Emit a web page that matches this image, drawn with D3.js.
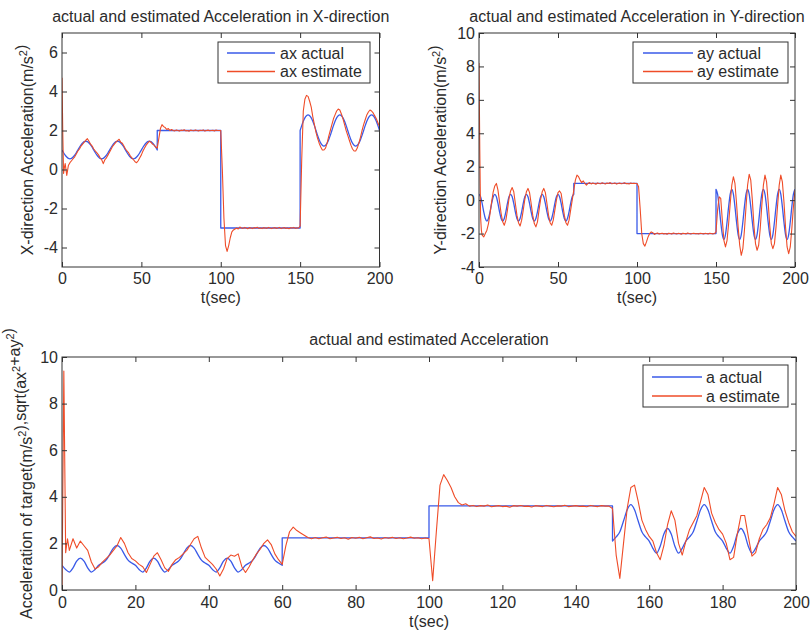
<!DOCTYPE html>
<html><head><meta charset="utf-8">
<script src="https://cdn.jsdelivr.net/npm/d3@7"></script>
<style>
html,body{margin:0;padding:0;background:#fff;}
svg{display:block;}
text{font-family:"Liberation Sans",Arial,sans-serif;fill:#2b2b2b;font-size:16px;}
</style>
</head><body>
<svg id="c" width="811" height="633"></svg>
<script>
// ---------------- data ----------------
// sample times of the estimated signals (s)
const tEst = [0, 0.5, 1, 1.5].concat(d3.range(2, 201));
// sample times of the actual signals (s) — repeated times are the step jumps
const tAct = d3.range(0, 61).concat([60, 100, 100, 150], d3.range(150, 201));

const axActual = [
 1.00,0.86,0.74,0.64,0.57,0.55,0.57,0.64,0.74,0.86,
 1.00,1.14,1.26,1.36,1.43,1.45,1.43,1.36,1.26,1.14,
 1.00,0.86,0.74,0.64,0.57,0.55,0.57,0.64,0.74,0.86,
 1.00,1.14,1.26,1.36,1.43,1.45,1.43,1.36,1.26,1.14,
 1.00,0.86,0.74,0.64,0.57,0.55,0.57,0.64,0.74,0.86,
 1.00,1.14,1.26,1.36,1.43,1.45,1.43,1.36,1.26,1.14,
 1.00,
 2.00,2.00,-3.00,-3.00,
 2.00,2.25,2.47,2.65,2.76,2.80,2.76,2.65,2.47,2.25,
 2.00,1.75,1.53,1.35,1.24,1.20,1.24,1.35,1.53,1.75,
 2.00,2.25,2.47,2.65,2.76,2.80,2.76,2.65,2.47,2.25,
 2.00,1.75,1.53,1.35,1.24,1.20,1.24,1.35,1.53,1.75,
 2.00,2.25,2.47,2.65,2.76,2.80,2.76,2.65,2.47,2.25,
 2.00
];
const axEstimate = [
 4.7,1.8,-0.2,0.1,
 0.3,-0.3,0.2,0.35,0.45,0.55,0.65,0.8,
 0.95,1.05,1.2,1.3,1.4,1.5,1.58,1.45,1.3,1.2,
 1.05,0.95,0.85,0.75,0.6,0.5,0.3,0.5,0.6,0.75,
 0.9,1.05,1.2,1.3,1.4,1.48,1.55,1.4,1.35,1.2,
 1.05,0.95,0.85,0.7,0.6,0.5,0.4,0.35,0.45,0.6,
 0.75,0.95,1.1,1.25,1.35,1.45,1.4,1.3,1.25,1.15,
 1.1,1.6,2.1,2.3,2.2,2.15,2.05,2.1,2.0,2.05,
 2.0,1.98,2.03,2.0,1.97,2.02,2.0,2.04,1.98,2.0,
 1.96,2.02,2.0,1.99,2.03,2.0,1.98,2.01,2.0,2.03,
 1.97,2.0,2.02,1.99,2.0,2.01,1.98,2.02,2.0,2.0,
 2.0,0.0,-2.5,-3.9,-4.2,-3.9,-3.5,-3.2,-3.1,-3.05,
 -3.0,-3.05,-2.95,-3.0,-3.02,-2.97,-3.0,-3.04,-2.98,-3.0,
 -3.03,-2.98,-3.0,-2.96,-3.02,-3.0,-3.03,-2.98,-3.0,-3.02,
 -2.97,-3.0,-3.03,-3.0,-2.98,-3.02,-3.0,-2.97,-3.03,-3.0,
 -2.98,-3.02,-3.0,-3.04,-2.99,-3.0,-2.97,-3.02,-3.0,-3.0,
 -2.9,0.5,3.0,3.6,3.8,3.75,3.5,3.2,2.7,2.3,
 1.9,1.6,1.35,1.15,1.0,1.0,1.1,1.35,1.7,2.0,
 2.3,2.6,2.8,3.0,3.1,3.05,2.85,2.6,2.3,2.0,
 1.75,1.5,1.25,1.05,0.95,0.95,1.1,1.35,1.65,2.0,
 2.3,2.55,2.8,2.95,3.05,3.0,2.9,2.75,2.6,2.4,
 2.2
];

const ayActual = [
 0.35,0.20,-0.20,-0.70,-1.10,-1.25,-1.10,-0.70,-0.20,0.20,
 0.35,0.20,-0.20,-0.70,-1.10,-1.25,-1.10,-0.70,-0.20,0.20,
 0.35,0.20,-0.20,-0.70,-1.10,-1.25,-1.10,-0.70,-0.20,0.20,
 0.35,0.20,-0.20,-0.70,-1.10,-1.25,-1.10,-0.70,-0.20,0.20,
 0.35,0.20,-0.20,-0.70,-1.10,-1.25,-1.10,-0.70,-0.20,0.20,
 0.35,0.20,-0.20,-0.70,-1.10,-1.25,-1.10,-0.70,-0.20,0.20,
 0.35,
 1.00,1.00,-2.00,-2.00,
 0.65,0.36,-0.39,-1.31,-2.06,-2.35,-2.06,-1.31,-0.39,0.36,
 0.65,0.36,-0.39,-1.31,-2.06,-2.35,-2.06,-1.31,-0.39,0.36,
 0.65,0.36,-0.39,-1.31,-2.06,-2.35,-2.06,-1.31,-0.39,0.36,
 0.65,0.36,-0.39,-1.31,-2.06,-2.35,-2.06,-1.31,-0.39,0.36,
 0.65,0.36,-0.39,-1.31,-2.06,-2.35,-2.06,-1.31,-0.39,0.36,
 0.65
];
const ayEstimate = [
 8.2,3.0,-1.0,-1.8,
 -2.1,-2.2,-2.0,-1.8,-1.4,-0.8,-0.1,0.5,
 0.85,1.0,0.6,-0.1,-0.8,-1.3,-1.5,-1.2,-0.6,0.1,
 0.55,0.75,0.5,-0.2,-0.9,-1.35,-1.55,-1.2,-0.6,0.05,
 0.5,0.7,0.45,-0.2,-0.9,-1.4,-1.6,-1.3,-0.6,0.05,
 0.5,0.7,0.45,-0.2,-0.9,-1.35,-1.5,-1.2,-0.6,0.0,
 0.45,0.55,0.4,-0.25,-0.9,-1.35,-1.5,-1.2,-0.6,0.0,
 0.6,1.2,1.5,1.4,1.2,1.05,1.15,1.0,0.9,1.0,
 1.05,0.97,1.02,1.0,0.95,1.03,1.0,0.98,1.04,1.0,
 0.97,1.02,1.0,1.05,0.98,1.0,1.03,0.96,1.0,1.02,
 0.98,1.0,1.04,0.99,1.0,0.97,1.02,1.0,1.01,1.0,
 1.0,0.8,-0.5,-2.0,-2.6,-2.75,-2.5,-2.2,-2.0,-1.9,
 -1.95,-2.05,-2.0,-1.97,-2.03,-2.0,-1.98,-2.02,-2.0,-2.04,
 -1.98,-2.0,-2.03,-1.97,-2.0,-2.02,-1.99,-2.0,-2.04,-1.98,
 -2.0,-2.02,-1.97,-2.0,-2.03,-2.0,-1.98,-2.01,-2.0,-2.03,
 -1.98,-2.0,-2.02,-1.99,-2.0,-2.03,-1.98,-2.0,-2.02,-2.0,
 -1.9,-0.6,0.2,0.1,-1.2,-2.4,-2.8,-2.4,-1.4,-0.2,
 0.9,1.4,1.0,-0.2,-1.6,-2.7,-3.3,-2.9,-1.8,-0.4,
 0.9,1.55,1.2,0.0,-1.5,-2.6,-3.0,-2.7,-1.7,-0.3,
 0.9,1.5,1.1,-0.1,-1.5,-2.6,-2.9,-2.6,-1.6,-0.3,
 0.9,1.5,1.1,-0.1,-1.6,-2.8,-3.2,-2.8,-1.7,-0.4,
 0.6
];

const aActual = [
 1.06,0.88,0.77,0.95,1.24,1.37,1.24,0.95,0.77,0.88,
 1.06,1.16,1.28,1.53,1.80,1.91,1.80,1.53,1.28,1.16,
 1.06,0.88,0.77,0.95,1.24,1.37,1.24,0.95,0.77,0.88,
 1.06,1.16,1.28,1.53,1.80,1.91,1.80,1.53,1.28,1.16,
 1.06,0.88,0.77,0.95,1.24,1.37,1.24,0.95,0.77,0.88,
 1.06,1.16,1.28,1.53,1.80,1.91,1.80,1.53,1.28,1.16,
 1.06,
 2.24,2.24,3.61,3.61,
 2.10,2.28,2.50,2.96,3.44,3.66,3.44,2.96,2.50,2.28,
 2.10,1.79,1.58,1.88,2.40,2.64,2.40,1.88,1.58,1.79,
 2.10,2.28,2.50,2.96,3.44,3.66,3.44,2.96,2.50,2.28,
 2.10,1.79,1.58,1.88,2.40,2.64,2.40,1.88,1.58,1.79,
 2.10,2.28,2.50,2.96,3.44,3.66,3.44,2.96,2.50,2.28,
 2.10
];
const aEstimate = [
 0.0,9.4,1.6,2.2,
 1.7,2.2,1.8,2.1,1.9,1.7,1.2,0.9,
 1.0,1.2,1.35,1.5,1.7,1.9,2.25,2.0,1.6,1.35,
 1.25,1.1,1.0,0.75,1.1,1.45,1.6,1.3,0.95,0.8,
 1.1,1.3,1.4,1.55,1.7,1.95,2.2,2.3,1.8,1.4,
 1.25,1.1,0.9,0.6,0.9,1.35,1.5,1.45,1.55,1.0,
 0.75,1.0,1.3,1.55,1.75,2.0,2.15,1.95,1.55,1.3,
 1.1,1.9,2.5,2.7,2.55,2.45,2.35,2.25,2.2,2.25,
 2.2,2.24,2.27,2.2,2.23,2.26,2.21,2.24,2.18,2.25,
 2.22,2.26,2.2,2.24,2.28,2.21,2.23,2.19,2.25,2.22,
 2.26,2.21,2.24,2.2,2.23,2.27,2.22,2.24,2.2,2.23,
 2.2,0.4,2.5,4.5,4.95,4.7,4.4,4.0,3.75,3.65,
 3.7,3.6,3.63,3.58,3.62,3.6,3.65,3.57,3.6,3.62,
 3.58,3.6,3.55,3.62,3.6,3.63,3.59,3.6,3.56,3.62,
 3.6,3.58,3.63,3.6,3.57,3.61,3.6,3.64,3.58,3.6,
 3.62,3.59,3.6,3.57,3.63,3.6,3.58,3.62,3.6,3.6,
 3.5,1.5,0.5,2.0,3.5,4.4,4.5,3.8,3.0,2.6,
 2.3,2.1,1.6,1.3,1.9,2.8,3.4,3.0,2.0,1.5,
 2.1,2.6,2.9,3.2,3.8,4.4,4.1,3.3,2.9,2.6,
 2.4,2.0,1.3,1.4,2.4,3.2,3.2,2.3,1.45,1.6,
 2.2,2.6,2.8,3.1,3.7,4.4,4.1,3.4,2.9,2.5,
 2.3
];

const xTicksTop = [0, 50, 100, 150, 200];
const xTicksBottom = [0, 20, 40, 60, 80, 100, 120, 140, 160, 180, 200];
const yTicksAx = [-4, -2, 0, 2, 4, 6];
const yTicksAy = [-4, -2, 0, 2, 4, 6, 8, 10];
const yTicksA = [0, 2, 4, 6, 8, 10];

const titles = ["actual and estimated Acceleration in X-direction",
                "actual and estimated Acceleration in Y-direction",
                "actual and estimated Acceleration"];
const legendAx = ["ax actual", "ax estimate"];
const legendAy = ["ay actual", "ay estimate"];
const legendA = ["a actual", "a estimate"];
const xLabel = "t(sec)";

// ---------------- drawing ----------------
const BLUE = "#3a5ae8", RED = "#ef4c28", INK = "#333";
const svg = d3.select("#c");
svg.append("rect").attr("width", 811).attr("height", 633).attr("fill", "#fff");

function splitPieces(ts, vs) {
  const pieces = []; let cur = [];
  ts.forEach((t, i) => {
    if (i > 0 && t === ts[i - 1]) { pieces.push(cur); cur = []; }
    cur.push([t, vs[i]]);
  });
  pieces.push(cur);
  return pieces;
}

let clipN = 0;
function panel(o) {
  const g = svg.append("g");
  const x = d3.scaleLinear().domain([0, 200]).range([o.left, o.right]);
  const y = d3.scaleLinear().domain(o.yDomain).range([o.bottom, o.top]);
  const cid = "clip" + (clipN++);
  g.append("clipPath").attr("id", cid).append("rect")
    .attr("x", o.left).attr("y", o.top).attr("width", o.right - o.left).attr("height", o.bottom - o.top);

  const plot = g.append("g").attr("clip-path", `url(#${cid})`);
  // actual (blue) — smooth pieces joined by vertical jumps
  const smooth = d3.line().x(d => x(d[0])).y(d => y(d[1])).curve(d3.curveMonotoneX);
  const dAct = splitPieces(tAct, o.act).map((p, i) => {
    const s = smooth(p); return i ? "L" + s.slice(1) : s;
  }).join("");
  plot.append("path").attr("d", dAct).attr("fill", "none").attr("stroke", BLUE)
    .attr("stroke-width", 1.3).attr("stroke-linejoin", "round");
  // estimate (red)
  const lin = d3.line().x((d, i) => x(tEst[i])).y(d => y(d));
  plot.append("path").attr("d", lin(o.est)).attr("fill", "none").attr("stroke", RED)
    .attr("stroke-width", 1.1).attr("stroke-linejoin", "round");

  // axes
  const fmt = d => String(d);
  const styleAxis = sel => {
    sel.select(".domain").remove();
    sel.selectAll(".tick line").attr("stroke", INK);
    sel.attr("font-size", null).attr("font-family", null);
  };
  g.append("g").attr("transform", `translate(0,${o.bottom})`)
    .call(d3.axisBottom(x).tickValues(o.xTicks).tickSizeInner(-5).tickSizeOuter(0).tickPadding(o.xPad).tickFormat(fmt))
    .call(styleAxis);
  g.append("g").attr("transform", `translate(0,${o.top})`)
    .call(d3.axisTop(x).tickValues(o.xTicks).tickSizeInner(-5).tickSizeOuter(0).tickFormat(() => ""))
    .call(styleAxis);
  g.append("g").attr("transform", `translate(${o.left},0)`)
    .call(d3.axisLeft(y).tickValues(o.yTicks).tickSizeInner(-5).tickSizeOuter(0).tickPadding(4).tickFormat(fmt))
    .call(styleAxis);
  g.append("g").attr("transform", `translate(${o.right},0)`)
    .call(d3.axisRight(y).tickValues(o.yTicks).tickSizeInner(-5).tickSizeOuter(0).tickFormat(() => ""))
    .call(styleAxis);

  // frame
  g.append("rect").attr("x", o.left).attr("y", o.top).attr("width", o.right - o.left)
    .attr("height", o.bottom - o.top).attr("fill", "none").attr("stroke", INK).attr("stroke-width", 1);

  // title and x label
  const cx = (o.left + o.right) / 2;
  g.append("text").attr("x", cx).attr("y", o.titleY).attr("text-anchor", "middle").text(o.title);
  g.append("text").attr("x", cx).attr("y", o.xLabelY).attr("text-anchor", "middle").text(xLabel);

  // y label with superscripts
  const yl = g.append("text").attr("text-anchor", "middle")
    .attr("transform", `translate(${o.yLabelX},${(o.top + o.bottom) / 2}) rotate(-90)`);
  o.yLabel.forEach(part => {
    if (part.sup) {
      yl.append("tspan").attr("dy", -6).style("font-size", "11px").text(part.t);
      yl.append("tspan").attr("dy", 6).text("");
    } else {
      yl.append("tspan").text(part.t);
    }
  });

  // legend
  const L = o.legend;
  g.append("rect").attr("x", L.x0).attr("y", L.y0).attr("width", L.x1 - L.x0).attr("height", L.y1 - L.y0)
    .attr("fill", "#fff").attr("stroke", INK).attr("stroke-width", 1);
  [[BLUE, o.legendText[0], L.r1], [RED, o.legendText[1], L.r2]].forEach(([c, t, ry]) => {
    g.append("line").attr("x1", L.lx0).attr("x2", L.lx1).attr("y1", ry).attr("y2", ry)
      .attr("stroke", c).attr("stroke-width", 1.3);
    g.append("text").attr("x", L.tx).attr("y", ry).attr("dy", "0.35em").text(t);
  });
}

panel({
  left: 62, right: 379.5, top: 33, bottom: 267, yDomain: [-5, 7],
  xTicks: xTicksTop, yTicks: yTicksAx, xPad: 6,
  act: axActual, est: axEstimate, title: titles[0], titleY: 22, xLabelY: 303,
  yLabelX: 33, yLabel: [{t: "X-direction Acceleration(m/s"}, {t: "2", sup: true}, {t: ")"}],
  legendText: legendAx,
  legend: {x0: 218, x1: 370, y0: 42, y1: 83, lx0: 227, lx1: 275, tx: 280, r1: 53, r2: 71.5}
});
panel({
  left: 479, right: 795, top: 33, bottom: 267, yDomain: [-4, 10],
  xTicks: xTicksTop, yTicks: yTicksAy, xPad: 6,
  act: ayActual, est: ayEstimate, title: titles[1], titleY: 22, xLabelY: 303,
  yLabelX: 446, yLabel: [{t: "Y-direction Acceleration(m/s"}, {t: "2", sup: true}, {t: ")"}],
  legendText: legendAy,
  legend: {x0: 633, x1: 788, y0: 42, y1: 83, lx0: 643, lx1: 693, tx: 697, r1: 53, r2: 71.5}
});
panel({
  left: 62, right: 796, top: 357, bottom: 590, yDomain: [0, 10],
  xTicks: xTicksBottom, yTicks: yTicksA, xPad: 7,
  act: aActual, est: aEstimate, title: titles[2], titleY: 345, xLabelY: 627,
  yLabelX: 32, yLabel: [{t: "Acceleration of target(m/s"}, {t: "2", sup: true}, {t: "),sqrt(ax"}, {t: "2", sup: true}, {t: "+ay"}, {t: "2", sup: true}, {t: ")"}],
  legendText: legendA,
  legend: {x0: 643, x1: 788, y0: 365, y1: 407, lx0: 652, lx1: 702, tx: 706, r1: 377, r2: 396}
});
</script>
</body></html>
